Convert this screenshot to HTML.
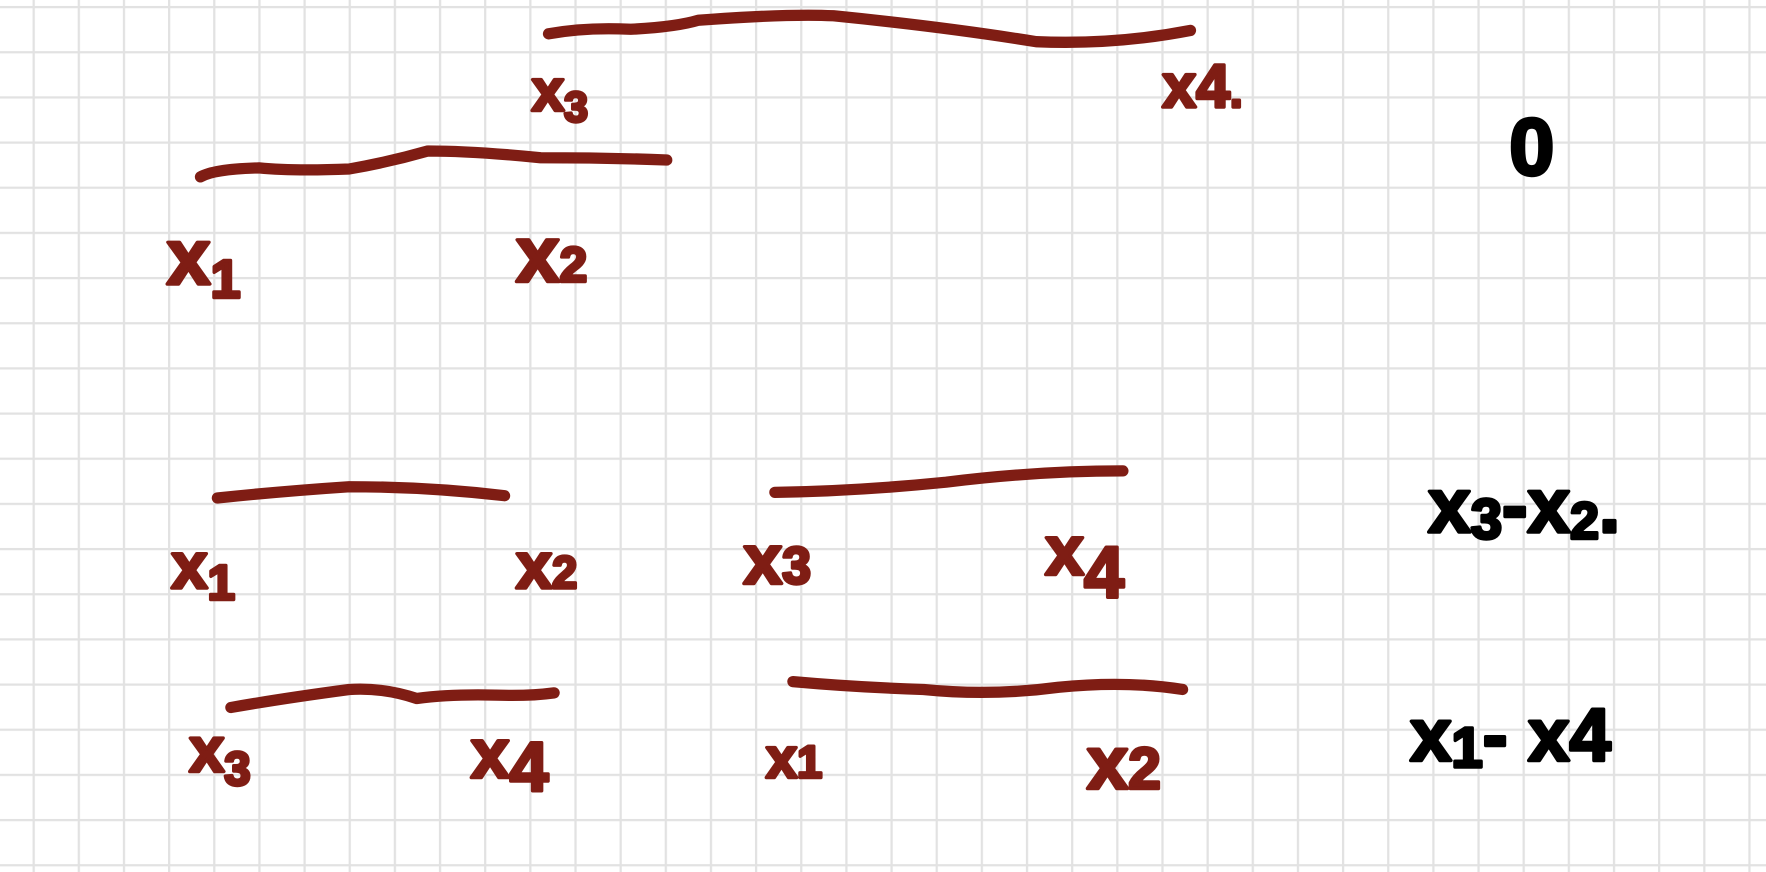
<!DOCTYPE html>
<html><head><meta charset="utf-8"><style>
html,body{margin:0;padding:0;background:#fff;width:1766px;height:872px;overflow:hidden}
svg{display:block}
text{font-family:"Liberation Sans",sans-serif;font-weight:bold;stroke-width:3;stroke-linejoin:round}
.r{fill:#7f1d14;stroke:#7f1d14}.k{fill:#000;stroke:#000}
path.s{fill:none;stroke:#7f1d14;stroke-width:10;stroke-linecap:round;stroke-linejoin:round}
</style></head><body>
<svg width="1766" height="872" viewBox="0 0 1568 774" preserveAspectRatio="none">
<defs><pattern id="g" x="28.9" y="5.3" width="40.09" height="40.09" patternUnits="userSpaceOnUse">
<path d="M0 0H40.09M0 0V40.09" stroke="#e2e2e2" stroke-width="4" fill="none"/></pattern></defs>
<rect width="1568" height="774" fill="url(#g)"/>
<g>
<path class="s" d="M487 30 Q520 24 560 26 Q600 24 620 18 Q700 12 740 14 Q840 24 920 37 Q990 40 1057 27"/>
<text class="r" x="472" y="98" font-size="52">x<tspan font-size="38" dy="10">3</tspan></text>
<text class="r" x="1032" y="95" font-size="54">x4<tspan font-size="40">.</tspan></text>
</g>
<text class="k" x="1340" y="155" font-size="72">0</text>
<g>
<path class="s" d="M178 157 Q190 150 230 149 Q260 152 310 150 Q345 144 380 134 Q420 134 480 140 Q540 140 592 142"/>
<text class="r" x="148" y="252" font-size="70">x<tspan font-size="48" dy="12">1</tspan></text>
<text class="r" x="458" y="250" font-size="70">x<tspan font-size="44">2</tspan></text>
</g>
<g>
<path class="s" d="M193 442 Q250 436 310 432 Q380 432 448 440"/>
<text class="r" x="152" y="522" font-size="58">x<tspan font-size="44" dy="10">1</tspan></text>
<text class="r" x="458" y="522" font-size="58">x<tspan font-size="40">2</tspan></text>
</g>
<g>
<path class="s" d="M688 437 Q760 436 840 428 Q920 418 997 418"/>
<text class="r" x="660" y="518" font-size="62">x<tspan font-size="46">3</tspan></text>
<text class="r" x="928" y="510" font-size="62">x<tspan font-size="64" dy="20">4</tspan></text>
</g>
<text class="k" x="1268" y="472" font-size="68">x<tspan font-size="50" dy="6">3</tspan><tspan dy="-6">-x</tspan><tspan font-size="46" dy="6">2</tspan><tspan dy="-6">.</tspan></text>
<g>
<path class="s" d="M205 628 Q250 620 310 612 Q340 610 370 620 Q400 616 440 617 Q470 618 492 615"/>
<text class="r" x="168" y="685" font-size="56">x<tspan font-size="42" dy="12">3</tspan></text>
<text class="r" x="418" y="690" font-size="62">x<tspan font-size="62" dy="12">4</tspan></text>
</g>
<g>
<path class="s" d="M704 605 Q760 610 820 612 Q880 618 940 610 Q1000 604 1050 612"/>
<text class="r" x="680" y="690" font-size="50">x<tspan font-size="40">1</tspan></text>
<text class="r" x="965" y="700" font-size="66">x<tspan font-size="52">2</tspan></text>
</g>
<text class="k" x="1252" y="675" font-size="66">x<tspan font-size="50" dy="6">1</tspan><tspan dy="-6">- x4</tspan></text>
</svg>
</body></html>
